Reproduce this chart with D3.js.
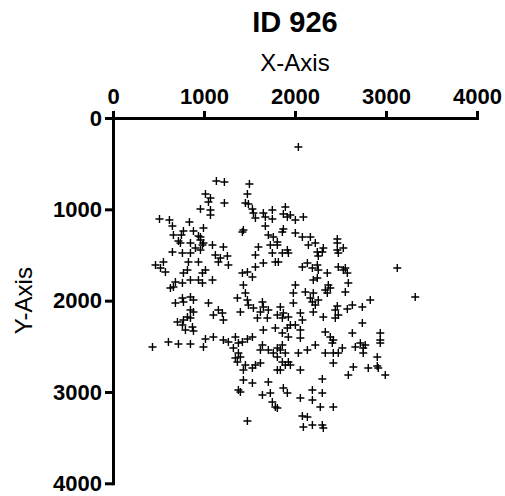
<!DOCTYPE html>
<html>
<head>
<meta charset="utf-8">
<script src="https://cdn.jsdelivr.net/npm/d3@7"></script>
<style>
  html, body { margin: 0; padding: 0; background: #fff; }
  svg { display: block; font-family: "Liberation Sans", Arial, sans-serif; }
</style>
</head>
<body>
<script>
const title = "ID 926";
const xLabel = "X-Axis";
const yLabel = "Y-Axis";
const xTicks = [0, 1000, 2000, 3000, 4000];
const yTicks = [0, 1000, 2000, 3000, 4000];

const xValues = [2037,1136,1224,1499,1016,1477,1071,1049,1224,1455,1488,961,1071,1071,1532,1543,1652,1751,1894,511,
620,653,840,994,774,884,664,752,961,1565,1674,1751,1872,1916,1949,2004,2092,1674,1872,1433,
1707,1762,2004,2081,2169,2465,719,961,939,994,983,741,851,1093,1213,653,763,851,961,1125,
1180,1257,829,939,1158,1268,467,554,522,576,1016,983,774,818,686,763,851,939,983,1093,
631,664,763,851,884,686,774,1049,851,884,1158,1103,1202,1213,818,774,851,708,763,873,
796,884,1422,1598,1729,1806,1565,1751,1652,1784,1565,1477,1422,1532,1433,1455,1367,1477,1400,1488,
1543,1642,1652,1707,1620,1587,1696,1806,1652,1784,1861,1806,1916,1861,1927,1817,2147,2223,2245,2300,
2311,2256,2465,2531,2476,2465,2136,2081,2191,2245,2256,2355,2476,2531,2575,2553,2201,2245,2586,2553,
3124,2004,1982,2114,2201,2169,2191,2256,2223,2333,2366,2388,2355,1982,2827,3321,2465,2443,2575,2630,
2740,1839,1872,1861,1927,2059,2081,2201,2311,2443,2476,1949,1916,2004,2059,2740,2333,2630,2937,434,
609,719,851,1016,1103,994,1213,1268,1345,1378,1422,1477,1532,1323,1378,1345,1400,1367,1642,1620,
1707,1762,1806,1455,1433,1532,1565,1620,1806,1433,1532,1707,1378,1400,1642,1729,1751,1784,1477,1861,
1927,2059,2388,2421,2410,2718,2772,2750,2937,2937,1861,1839,1894,1806,2037,2136,2223,2333,2421,2476,
2520,2663,2750,1861,1927,1949,1894,1839,2059,2421,2641,2586,2805,2904,2915,2992,2904,2300,1872,1916,
1806,2191,2300,2059,2191,2278,2421,2081,2136,2092,2191,2300,2311,906];

const yValues = [318,690,701,723,832,832,876,920,931,931,942,996,1007,1062,996,1040,1040,1007,975,1106,
1117,1183,1139,1205,1237,1237,1281,1281,1303,1095,1084,1106,1051,1084,1062,1117,1084,1183,1215,1226,
1281,1303,1259,1303,1303,1325,1347,1336,1292,1369,1391,1369,1369,1391,1413,1467,1478,1478,1445,1500,
1533,1511,1577,1577,1577,1610,1610,1577,1643,1686,1664,1697,1697,1664,1796,1807,1774,1774,1807,1774,
1862,1851,1971,1960,1993,2026,2015,2026,2102,2124,2102,2157,2135,2212,2179,2212,2190,2234,2267,2289,
2321,2332,1248,1413,1391,1358,1500,1478,1588,1577,1632,1686,1697,1741,1829,1916,1971,1993,2124,2048,
2081,2015,2070,2102,2124,2190,2190,2157,2321,2300,1248,1391,1445,1478,1478,1577,1391,1369,1467,1467,
1424,1511,1369,1424,1478,1445,1588,1632,1643,1610,1664,1697,1632,1664,1697,1643,1774,1752,1807,1905,
1643,1829,1916,1905,1916,1971,2015,1993,2048,1883,1829,1862,1916,2026,1993,1960,2059,2102,2091,2048,
2070,2070,2135,2190,2179,2135,2212,2124,2179,2190,2157,2267,2300,2267,2321,2245,2343,2354,2354,2508,
2453,2475,2475,2420,2398,2508,2431,2453,2398,2464,2453,2420,2398,2519,2573,2628,2617,2672,2486,2540,
2540,2573,2519,2705,2759,2738,2705,2683,2759,2869,2902,2891,2978,3000,3033,3011,3110,3165,3318,2354,
2398,2409,2398,2431,2464,2464,2486,2519,2431,2464,2486,2540,2573,2617,2573,2540,2486,2573,2573,2573,
2519,2508,2573,2672,2672,2705,2705,2759,2759,2683,2727,2814,2738,2716,2738,2814,2617,2858,2957,3011,
3176,2978,3011,3066,3088,3165,3165,3263,3274,3384,3362,3362,3395,1424];

const W = 505, H = 496;
const svg = d3.select("body").append("svg").attr("width", W).attr("height", H);

const x = d3.scaleLinear().domain([0, 4000]).range([113, 477]);
const y = d3.scaleLinear().domain([0, 4000]).range([118, 483.3]);

const xAxis = d3.axisTop(x).tickValues(xTicks).tickFormat(d3.format("d")).tickSize(7).tickSizeOuter(0).tickPadding(7);
const yAxis = d3.axisLeft(y).tickValues(yTicks).tickFormat(d3.format("d")).tickSize(8).tickSizeOuter(0).tickPadding(3);

const gx = svg.append("g").attr("transform", `translate(0,${y(0)})`).call(xAxis);
const gy = svg.append("g").attr("transform", `translate(${x(0)},0)`).call(yAxis);

[gx, gy].forEach(g => {
  g.selectAll(".domain").attr("stroke", "#000").attr("stroke-width", 3).attr("stroke-linecap", "square");
  g.selectAll(".tick line").attr("stroke", "#000").attr("stroke-width", 3);
  g.selectAll(".tick text").attr("fill", "#000")
    .style("font-family", '"Liberation Sans", Arial, sans-serif')
    .style("font-size", "22px").style("font-weight", "bold");
});

svg.append("text").attr("x", (x(0) + x(4000)) / 2).attr("y", 32)
  .attr("text-anchor", "middle").style("font-size", "29px").style("font-weight", "bold")
  .text(title);

svg.append("text").attr("x", (x(0) + x(4000)) / 2).attr("y", 71)
  .attr("text-anchor", "middle").style("font-size", "24px")
  .text(xLabel);

svg.append("text")
  .attr("transform", `translate(32,${(y(0) + y(4000)) / 2}) rotate(-90)`)
  .attr("text-anchor", "middle").style("font-size", "24px")
  .text(yLabel);

const pts = xValues.map((v, i) => [v, yValues[i]]);
svg.append("g").selectAll("path").data(pts).join("path")
  .attr("transform", d => `translate(${x(d[0])},${y(d[1])})`)
  .attr("d", "M-4,0H4M0,-4V4")
  .attr("stroke", "#000").attr("stroke-width", 1.4).attr("fill", "none");
</script>
</body>
</html>
